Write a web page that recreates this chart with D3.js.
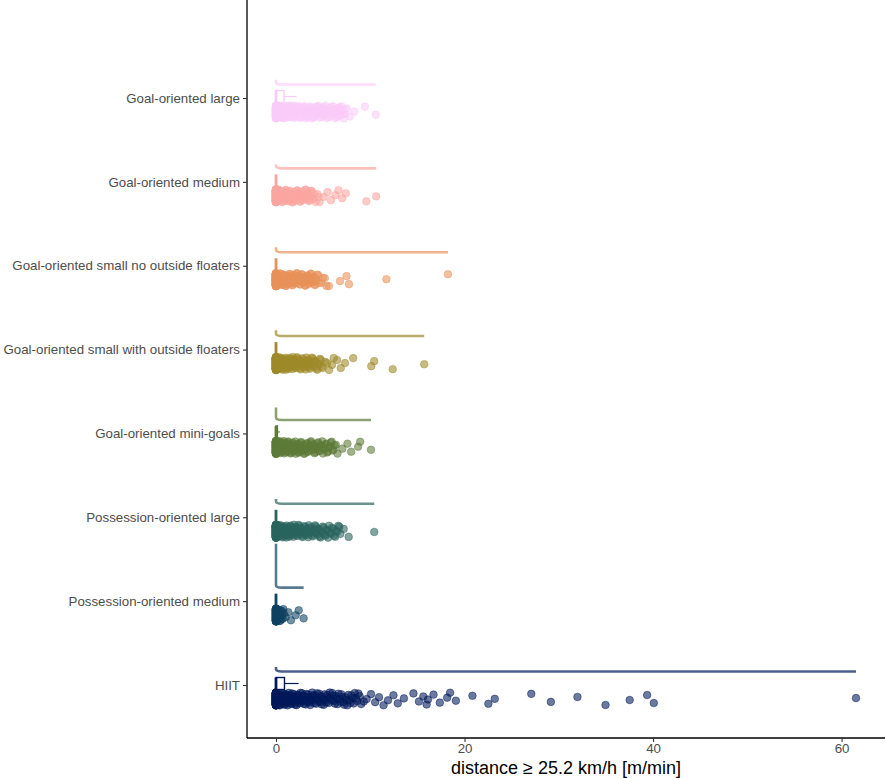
<!DOCTYPE html>
<html>
<script src="https://d3js.org/d3.v7.min.js"></script>
<body style="margin:0;background:#fff;">
<style>
    text { font-family: "Liberation Sans", Arial, sans-serif; }
</style>
<div id="chart"></div>
<script>
    // categories, top to bottom
    const groups = ["Goal-oriented large", "Goal-oriented medium", "Goal-oriented small no outside floaters",
        "Goal-oriented small with outside floaters", "Goal-oriented mini-goals", "Possession-oriented large",
        "Possession-oriented medium", "HIIT"];
    const colors = ["#F9CBF8", "#FBA5A1", "#E8915A", "#9E8A2A", "#5D7A38", "#2A645E", "#0F4262", "#011959"];

    // number of observations at exactly 0 m/min
    const zeroCounts = [60, 120, 150, 150, 110, 150, 90, 180];

    // non-zero observations (m/min), read off the point clouds
    const gLarge = [0.04,0.07,0.12,0.15,0.18,0.22,0.27,0.31,0.33,0.38,0.42,0.47,0.5,0.56,0.61,0.63,0.69,0.74,0.78,0.83,0.88,0.94,0.97,1.03,1.09,1.16,1.2,1.27,1.35,1.38,1.46,1.52,1.61,1.67,1.74,1.83,1.9,1.98,2.07,2.15,2.24,2.31,2.42,2.5,2.61,2.69,2.78,2.9,2.97,3.08,3.16,3.27,3.35,3.46,3.58,3.63,3.77,3.85,3.96,4.08,4.17,4.29,4.38,4.52,4.6,4.73,4.86,4.94,5.07,5.19,5.33,5.41,5.56,5.68,5.79,5.93,6.05,6.18,6.32,6.44,6.57,6.71,6.86,7.02,7.19,7.35,7.52,7.83,8.31,9.42,10.58];
    const gLargeB = [0.02,0.09,0.14,0.2,0.25,0.29,0.36,0.4,0.45,0.53,0.58,0.66,0.71,0.8,0.86,0.92,1.0,1.06,1.13,1.24,1.3,1.42,1.49,1.57,1.64,1.71,1.79,1.87,1.95,2.03,2.12,2.19,2.28,2.36,2.46,2.55,2.64,2.74,2.83,2.94,3.03,3.12,3.22,3.31,3.41,3.52,3.68,3.72,3.81,3.92,4.03,4.13,4.24,4.34,4.47,4.56,4.67,4.79,4.91,5.02,5.14,5.26,5.37,5.5,5.62,5.74,5.87,6.0,6.13,6.27,6.39,6.53,6.63,6.78,6.95,7.1,7.27];
    const gMedium = [0.05,0.09,0.14,0.2,0.24,0.31,0.36,0.43,0.49,0.55,0.62,0.7,0.76,0.84,0.91,0.99,1.08,1.15,1.24,1.33,1.4,1.51,1.58,1.69,1.77,1.88,1.96,2.07,2.18,2.26,2.37,2.49,2.58,2.7,2.81,2.93,3.04,3.17,3.28,3.41,3.52,3.66,3.78,3.93,4.38,4.62,5.04,5.47,5.83,6.31,6.62,7.02,7.41,9.58,10.63];
    const gMediumB = [0.03,0.07,0.12,0.17,0.22,0.28,0.33,0.39,0.46,0.52,0.58,0.66,0.73,0.8,0.87,0.95,1.03,1.11,1.2,1.28,1.37,1.45,1.54,1.63,1.73,1.82,1.92,2.02,2.12,2.22,2.32,2.43,2.54,2.64,2.76,2.87,2.99,3.11,3.22,3.35,3.47,3.59,3.72,3.86,4.02,4.21,4.51];
    const gSmallNo = [0.06,0.11,0.17,0.23,0.29,0.34,0.41,0.48,0.53,0.6,0.68,0.74,0.82,0.9,0.97,1.06,1.13,1.22,1.31,1.39,1.48,1.57,1.66,1.74,1.85,1.94,2.03,2.14,2.25,2.33,2.45,2.56,2.67,2.78,2.9,3.01,3.13,3.24,3.37,3.49,3.62,3.74,3.88,4.01,4.16,4.3,4.47,4.81,5.18,5.62,6.79,7.48,7.74,11.71,18.24];
    const gSmallNoB = [0.04,0.09,0.14,0.2,0.26,0.32,0.38,0.44,0.51,0.57,0.64,0.71,0.78,0.86,0.94,1.02,1.1,1.18,1.27,1.35,1.44,1.53,1.62,1.71,1.8,1.9,1.99,2.09,2.19,2.29,2.4,2.5,2.61,2.72,2.84,2.95,3.07,3.19,3.31,3.43,3.56,3.68,3.81,3.95,4.08,4.23,4.38,4.56,4.98,5.35];
    const gSmallWith = [0.05,0.1,0.16,0.21,0.27,0.33,0.39,0.46,0.52,0.59,0.66,0.72,0.8,0.87,0.95,1.03,1.12,1.19,1.28,1.37,1.45,1.54,1.63,1.73,1.82,1.92,2.01,2.12,2.22,2.33,2.43,2.55,2.66,2.78,2.89,3.02,3.14,3.27,3.4,3.53,3.67,3.82,3.96,4.12,4.29,4.47,4.66,4.82,5.21,5.63,5.94,6.48,6.87,7.32,8.19,10.11,10.42,12.38,15.72];
    const gSmallWithB = [0.03,0.08,0.13,0.19,0.24,0.3,0.36,0.43,0.49,0.56,0.62,0.69,0.76,0.84,0.91,0.99,1.07,1.15,1.24,1.32,1.41,1.5,1.59,1.68,1.78,1.87,1.97,2.07,2.17,2.28,2.38,2.49,2.6,2.72,2.84,2.96,3.08,3.21,3.33,3.47,3.6,3.74,3.89,4.04,4.2,4.38,4.56,4.74,4.95,5.42,6.12];
    const gMini = [0.04,0.08,0.13,0.19,0.24,0.3,0.36,0.42,0.49,0.55,0.62,0.69,0.77,0.84,0.92,1.0,1.09,1.17,1.26,1.35,1.44,1.54,1.63,1.73,1.83,1.94,2.04,2.15,2.26,2.38,2.49,2.61,2.73,2.86,2.98,3.11,3.24,3.38,3.51,3.65,3.8,3.94,4.09,4.25,4.4,4.56,4.73,4.9,5.07,5.25,5.43,5.62,5.81,6.0,6.21,6.52,7.03,7.58,7.97,8.71,8.93,10.08];
    const gMiniB = [0.02,0.06,0.11,0.16,0.21,0.27,0.33,0.39,0.45,0.52,0.59,0.66,0.73,0.8,0.88,0.96,1.04,1.13,1.22,1.31,1.4,1.49,1.59,1.68,1.78,1.88,1.99,2.1,2.21,2.32,2.44,2.55,2.67,2.8,2.92,3.05,3.18,3.31,3.45,3.58,3.72,3.87,4.02,4.17,4.33,4.48,4.65,4.82,4.99,5.16,5.34,5.52,5.71,5.9,6.1,6.34];
    const pLarge = [0.05,0.11,0.16,0.22,0.28,0.35,0.41,0.48,0.55,0.62,0.7,0.77,0.85,0.93,1.01,1.1,1.18,1.27,1.36,1.45,1.55,1.65,1.75,1.85,1.95,2.06,2.17,2.28,2.4,2.51,2.63,2.76,2.88,3.01,3.14,3.27,3.41,3.55,3.69,3.84,3.99,4.14,4.3,4.46,4.62,4.79,4.97,5.15,5.34,5.53,5.73,5.94,6.16,6.38,6.61,6.83,7.18,7.71,10.42];
    const pLargeB = [0.02,0.08,0.13,0.19,0.25,0.31,0.38,0.45,0.51,0.58,0.66,0.73,0.81,0.89,0.97,1.06,1.14,1.23,1.32,1.41,1.5,1.6,1.7,1.8,1.9,2.01,2.12,2.23,2.34,2.46,2.57,2.69,2.82,2.95,3.07,3.2,3.34,3.48,3.62,3.76,3.91,4.06,4.22,4.38,4.54,4.71,4.88,5.06,5.24,5.43,5.63,5.84,6.05,6.27,6.49,6.72];
    const pMedium = [0.03,0.06,0.1,0.14,0.18,0.23,0.29,0.35,0.42,0.5,0.58,0.67,0.78,1.02,1.31,1.58,2.08,2.41,2.93];
    const pMediumB = [0.01,0.04,0.08,0.12,0.16,0.2,0.26,0.32,0.38,0.46,0.54,0.62,0.72,0.86];
    const hiit = [0.03,0.07,0.11,0.16,0.21,0.26,0.31,0.37,0.43,0.49,0.55,0.62,0.69,0.76,0.83,0.91,0.99,1.07,1.15,1.24,1.33,1.42,1.51,1.61,1.71,1.81,1.91,2.02,2.13,2.24,2.35,2.47,2.59,2.71,2.83,2.96,3.09,3.22,3.35,3.49,3.63,3.77,3.91,4.06,4.21,4.36,4.52,4.68,4.84,5.0,5.17,5.34,5.52,5.7,5.88,6.06,6.25,6.44,6.63,6.83,7.03,7.24,7.45,7.67,7.89,8.12,8.36,8.61,8.87,9.04,9.62,10.08,10.52,10.93,11.41,11.88,12.46,12.92,13.57,14.58,15.16,15.63,15.98,16.12,16.71,17.38,18.16,18.47,19.08,20.84,22.53,23.21,27.08,29.16,31.98,34.96,37.52,39.37,40.08,61.53];
    const hiitB = [0.02,0.05,0.09,0.13,0.18,0.23,0.28,0.34,0.4,0.46,0.52,0.58,0.65,0.72,0.8,0.87,0.95,1.03,1.11,1.2,1.28,1.37,1.46,1.56,1.66,1.76,1.86,1.96,2.07,2.18,2.29,2.41,2.53,2.65,2.77,2.9,3.02,3.15,3.28,3.42,3.56,3.7,3.84,3.98,4.13,4.28,4.44,4.6,4.76,4.92,5.08,5.26,5.43,5.61,5.79,5.97,6.16,6.34,6.54,6.73,6.93,7.14,7.35,7.56,7.78,8.0,8.24,8.48,8.74,9.31];
    const values = [gLarge.concat(gLargeB), gMedium.concat(gMediumB), gSmallNo.concat(gSmallNoB),
        gSmallWith.concat(gSmallWithB), gMini.concat(gMiniB), pLarge.concat(pLargeB),
        pMedium.concat(pMediumB), hiit.concat(hiitB)];

    // boxplot stats: q1, median, q3, upper whisker
    const q1 = [0, 0, 0, 0, 0, 0, 0, 0];
    const med = [0, 0, 0, 0, 0, 0, 0, 0];
    const q3 = [0.85, 0, 0, 0, 0.15, 0, 0, 0.9];
    const whiskHi = [2.2, 0, 0, 0, 0.4, 0, 0, 2.4];

    // peak of the half violin (density at 0, relative)
    const violinPeak = [0.11, 0.09, 0.11, 0.13, 0.28, 0.11, 1.0, 0.1];

    const xTicks = [0, 20, 40, 60];
    const xTitle = "distance \u2265 25.2 km/h [m/min]";

    let width = 886, height = 778;
    let left = 247, right = 885, bottom = 738;

    let svg = d3.select('#chart').append('svg').attr('width', width).attr('height', height);

    let xMax = d3.max(values.flat());
    let pad = xMax * 0.05;
    let x = d3.scaleLinear().domain([-pad, xMax + pad]).range([left, right]);
    let y = d3.scalePoint().domain(groups).range([98, 685]);
    let dens = d3.scaleLinear().domain([0, 1]).range([0, 44]);

    // half violins
    groups.forEach((g, i) => {
        let base = y(g) - 13.5;
        let top = base - dens(violinPeak[i]);
        let x0 = x(0), xm = x(d3.max(values[i]));
        let p = d3.path();
        p.moveTo(x0, top);
        p.lineTo(x0, base - 2.5);
        p.quadraticCurveTo(x0, base, x0 + 6, base);
        p.lineTo(xm, base);
        svg.append('path')
            .attr('d', p.toString())
            .attr('fill', 'none')
            .attr('stroke', colors[i])
            .attr('stroke-opacity', 0.7)
            .attr('stroke-width', 2.6);
    });

    // jittered points
    groups.forEach((g, i) => {
        let pts = d3.range(zeroCounts[i]).map(() => 0).concat(values[i]);
        let cy = y(g) + 14;
        svg.append('g').selectAll('circle')
            .data(pts)
            .join('circle')
            .attr('cx', d => x(d))
            .attr('cy', (d, j) => cy + (((j * 0.6180339887) % 1) - 0.5) * 13)
            .attr('r', 3.8)
            .attr('fill', colors[i])
            .attr('fill-opacity', 0.58)
            .attr('stroke', colors[i])
            .attr('stroke-opacity', 0.58)
            .attr('stroke-width', 0.8);
    });

    // boxplots
    groups.forEach((g, i) => {
        let c = y(g) - 1.5;
        let bg = svg.append('g').attr('stroke', colors[i]);
        bg.append('line')
            .attr('x1', x(q3[i])).attr('x2', x(whiskHi[i]))
            .attr('y1', c).attr('y2', c)
            .attr('stroke-width', 1.2);
        bg.append('rect')
            .attr('x', x(q1[i])).attr('width', x(q3[i]) - x(q1[i]))
            .attr('y', c - 6).attr('height', 12)
            .attr('fill', 'white')
            .attr('stroke-width', 1.4);
        bg.append('line')
            .attr('x1', x(med[i])).attr('x2', x(med[i]))
            .attr('y1', c - 6).attr('y2', c + 6)
            .attr('stroke-width', 2.8);
    });

    // axes
    let xAxis = svg.append('g')
        .attr('transform', `translate(0,${bottom})`)
        .call(d3.axisBottom(x).tickValues(xTicks).tickSize(4).tickPadding(2));
    let yAxis = svg.append('g')
        .attr('transform', `translate(${left},0)`)
        .call(d3.axisLeft(y).tickSize(4).tickPadding(3));

    [xAxis, yAxis].forEach(a => {
        a.select('.domain').attr('stroke', 'black').attr('stroke-width', 1.3);
        a.selectAll('.tick line').attr('stroke', '#333').attr('stroke-width', 1.1);
        a.selectAll('.tick text').attr('fill', '#4d4d4d').style('font-size', '13.3px')
            .style('font-family', '"Liberation Sans", Arial, sans-serif');
    });
    // extend domain lines to panel edges
    xAxis.select('.domain').attr('d', `M${left},0H${right}`);
    yAxis.select('.domain').attr('d', `M0,0V${bottom}`);

    svg.append('text')
        .attr('x', (left + right) / 2)
        .attr('y', 774)
        .attr('text-anchor', 'middle')
        .style('font-size', '18px')
        .attr('fill', 'black')
        .text(xTitle);
</script>
</body>
</html>
